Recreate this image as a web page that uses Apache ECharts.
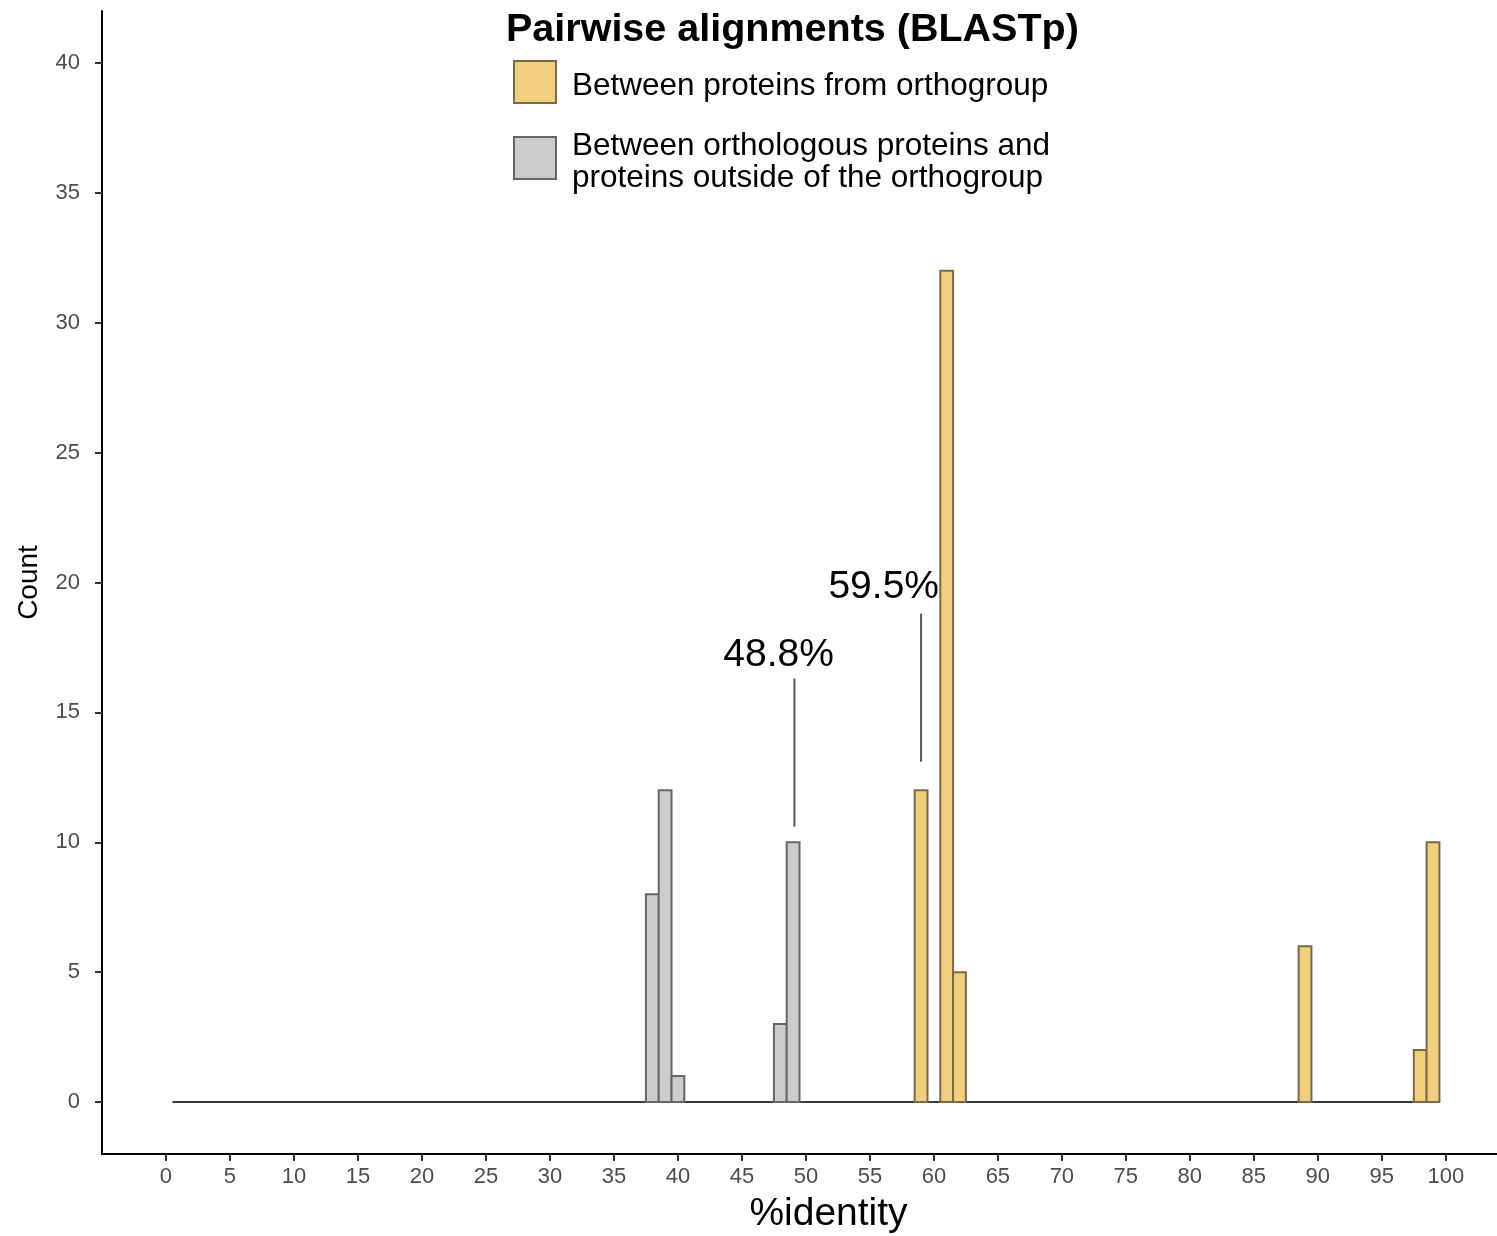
<!DOCTYPE html>
<html>
<head>
<meta charset="utf-8">
<title>Pairwise alignments (BLASTp)</title>
<script src="https://cdn.jsdelivr.net/npm/echarts@6/dist/echarts.min.js"></script>
<style>
    html, body { margin: 0; padding: 0; background: #fff; }
    #chart { width: 1497px; height: 1236px; }
</style>
</head>
<body>
<div id="chart"></div>
<script>
// histogram of %identity, bins of width 1
var orangeName = 'Between proteins from orthogroup';
var orangeBins = [59, 61, 62, 89, 98, 99];
var orangeCounts = [12, 32, 5, 6, 2, 10];

var greyName = 'Between orthologous proteins and\nproteins outside of the orthogroup';
var greyBins = [38, 39, 40, 48, 49];
var greyCounts = [8, 12, 1, 3, 10];

// empty bins show as a flat line at 0 over this span
var binRange = [0.5, 99.5];

// median annotations
var medianLabels = ['48.8%', '59.5%'];
var medianLineX = [49.1, 59.0];
var medianLineY = [[10.6, 16.3], [13.1, 18.8]];
var medianTextX = [47.87, 56.08];
var medianTextY = [17.2, 19.8];

var xTicks = [0, 5, 10, 15, 20, 25, 30, 35, 40, 45, 50, 55, 60, 65, 70, 75, 80, 85, 90, 95, 100];
var yTicks = [0, 5, 10, 15, 20, 25, 30, 35, 40];

var FONT = '"Liberation Sans", Arial, Helvetica, sans-serif';

function pairs(xs, ys) {
    var out = [];
    for (var i = 0; i < xs.length; i++) {
        out.push([xs[i], ys[i]]);
    }
    return out;
}

// one histogram bar per data item
function barRenderer(fill, stroke) {
    return function (params, api) {
        var x = api.value(0), y = api.value(1);
        var p0 = api.coord([x - 0.5, y]);
        var p1 = api.coord([x + 0.5, 0]);
        return {
            type: 'rect',
            shape: { x: p0[0], y: p0[1], width: p1[0] - p0[0], height: p1[1] - p0[1] },
            style: { fill: fill, stroke: stroke, lineWidth: 2 }
        };
    };
}

var annData = [];
for (var i = 0; i < medianLabels.length; i++) {
    annData.push([medianLineX[i], medianLineY[i][0], medianLineY[i][1], medianTextX[i], medianTextY[i]]);
}

var chart = echarts.init(document.getElementById('chart'));

var option = {
    backgroundColor: '#fff',
    animation: false,
    textStyle: { fontFamily: FONT },
    title: {
        text: 'Pairwise alignments (BLASTp)',
        left: 506,
        top: 10,
        padding: 0,
        textStyle: { fontFamily: FONT, fontSize: 39.5, fontWeight: 'bold', color: '#000' }
    },
    legend: {
        orient: 'vertical',
        left: 513,
        top: 60,
        padding: 0,
        itemWidth: 42,
        itemHeight: 42,
        itemGap: 22,
        icon: 'rect',
        selectedMode: false,
        // legend text sits a little below the key centre, as in the original
        formatter: function (name) {
            return '{t|' + name.split('\n').join('}\n{t|') + '}';
        },
        textStyle: {
            fontFamily: FONT, fontSize: 31.5, lineHeight: 32, color: '#000', padding: [0, 0, 0, 11],
            rich: { t: { fontFamily: FONT, fontSize: 31.5, lineHeight: 32, color: '#000', padding: [4, 0, -4, 0] } }
        },
        data: [
            { name: orangeName, itemStyle: { color: '#F2CF7F', borderColor: '#7a6a48', borderWidth: 2 } },
            { name: greyName, itemStyle: { color: '#CCCCCC', borderColor: '#666666', borderWidth: 2 } }
        ]
    },
    grid: { left: 102, right: 0, top: 11, bottom: 82, containLabel: false, outerBoundsMode: 'none' },
    xAxis: {
        type: 'value',
        min: -5,
        max: 104,
        name: '%identity',
        nameLocation: 'middle',
        nameGap: 41,
        nameTextStyle: { fontFamily: FONT, fontSize: 39, color: '#000', padding: [0, 0, 0, 58] },
        axisLine: { onZero: false, lineStyle: { color: '#000', width: 2 } },
        axisTick: { customValues: xTicks, length: 7, lineStyle: { color: '#333', width: 2 } },
        axisLabel: { customValues: xTicks, margin: 12, fontSize: 22, color: '#4D4D4D', fontFamily: FONT },
        splitLine: { show: false }
    },
    yAxis: {
        type: 'value',
        min: -2,
        max: 42,
        name: 'Count',
        nameLocation: 'middle',
        nameRotate: 90,
        nameGap: 59,
        nameTextStyle: { fontFamily: FONT, fontSize: 28, color: '#000' },
        axisLine: { onZero: false, lineStyle: { color: '#000', width: 2 } },
        axisTick: { customValues: yTicks, length: 7, lineStyle: { color: '#333', width: 2 } },
        axisLabel: { customValues: yTicks, margin: 22, fontSize: 22, color: '#4D4D4D', fontFamily: FONT },
        splitLine: { show: false }
    },
    series: [
        {
            name: 'empty bins',
            type: 'line',
            data: [[binRange[0], 0], [binRange[1], 0]],
            symbol: 'none',
            lineStyle: { color: '#3a3a3a', width: 2 },
            z: 1
        },
        {
            name: orangeName,
            type: 'custom',
            renderItem: barRenderer('#F2CF7F', '#7a6a48'),
            itemStyle: { color: '#F2CF7F' },
            data: pairs(orangeBins, orangeCounts),
            z: 2
        },
        {
            name: greyName,
            type: 'custom',
            renderItem: barRenderer('#CCCCCC', '#666666'),
            itemStyle: { color: '#CCCCCC' },
            data: pairs(greyBins, greyCounts),
            z: 2
        },
        {
            name: 'medians',
            type: 'custom',
            data: annData,
            renderItem: function (params, api) {
                var a = api.coord([api.value(0), api.value(1)]);
                var b = api.coord([api.value(0), api.value(2)]);
                var t = api.coord([api.value(3), api.value(4)]);
                return {
                    type: 'group',
                    children: [
                        {
                            type: 'line',
                            shape: { x1: a[0], y1: a[1], x2: b[0], y2: b[1] },
                            style: { stroke: '#555', lineWidth: 2 }
                        },
                        {
                            type: 'text',
                            x: t[0],
                            y: t[1],
                            style: {
                                text: medianLabels[params.dataIndex],
                                fontFamily: FONT,
                                fontSize: 39,
                                fill: '#000',
                                align: 'center',
                                verticalAlign: 'middle'
                            }
                        }
                    ]
                };
            },
            z: 3
        }
    ]
};

chart.setOption(option);
</script>
</body>
</html>
